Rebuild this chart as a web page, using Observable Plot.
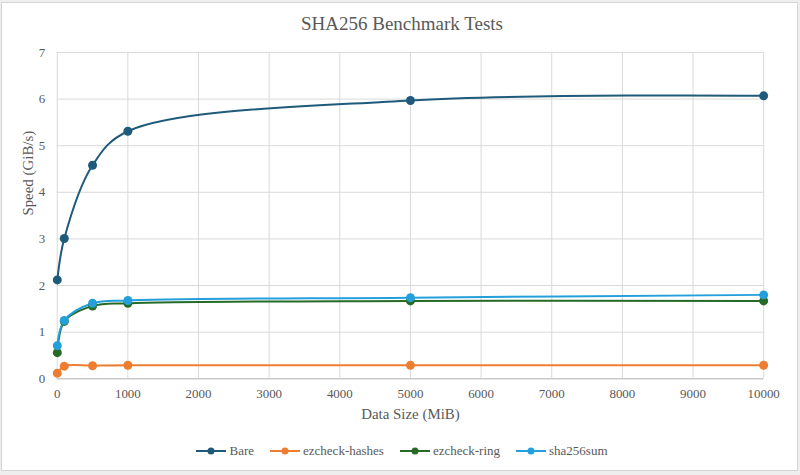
<!DOCTYPE html>
<html>
<head>
<meta charset="utf-8">
<script src="https://cdn.jsdelivr.net/npm/d3@7"></script>
<script src="https://cdn.jsdelivr.net/npm/@observablehq/plot@0.6"></script>
<style>
  html, body { margin: 0; padding: 0; background: #eeeeee; }
  #card { position: absolute; left: 1px; top: 2px; width: 795px; height: 467px; background: #fff; border: 1px solid #d4d4d4; overflow: hidden; }
  #title { position: absolute; left: 0; top: 0; width: 800px; height: 40px; text-align: center; font-family: "Times New Roman", "Liberation Serif", "DejaVu Serif", serif; font-size: 19px; color: #595959; line-height: 42px; }
  #chart { position: absolute; left: -1px; top: 38px; }
  #legend { position: absolute; left: 0; top: 437px; width: 800px; height: 22px; font-family: "Times New Roman", "Liberation Serif", "DejaVu Serif", serif; font-size: 13px; color: #595959; display: flex; justify-content: center; align-items: center; gap: 16px; }
  .item { display: flex; align-items: center; }
  .item svg { margin-right: 3px; }
</style>
</head>
<body>
<div id="card">
  <div id="title">SHA256 Benchmark Tests</div>
  <div id="chart"></div>
  <div id="legend"></div>
</div>
<script>
const sizes = [1, 100, 500, 1000, 5000, 10000];
const seriesNames = ["Bare", "ezcheck-hashes", "ezcheck-ring", "sha256sum"];
const bare = [2.12, 3.01, 4.58, 5.31, 5.97, 6.07];
const ezcheckHashes = [0.12, 0.27, 0.28, 0.29, 0.29, 0.29];
const ezcheckRing = [0.56, 1.23, 1.56, 1.62, 1.67, 1.67];
const sha256sum = [0.71, 1.25, 1.62, 1.68, 1.74, 1.80];
const colors = ["#1f5a7a", "#ed7d31", "#256b27", "#23a0db"];
const xTicks = [0, 1000, 2000, 3000, 4000, 5000, 6000, 7000, 8000, 9000, 10000];
const yTicks = [0, 1, 2, 3, 4, 5, 6, 7];

const valuesBySeries = [bare, ezcheckHashes, ezcheckRing, sha256sum];
const data = [];
seriesNames.forEach((name, i) => {
  sizes.forEach((s, j) => data.push({series: name, size: s, speed: valuesBySeries[i][j]}));
});

const font = "'Times New Roman', 'Liberation Serif', 'DejaVu Serif', serif";
const plot = Plot.plot({
  width: 800,
  height: 392,
  marginTop: 11,
  marginBottom: 53,
  marginLeft: 56,
  marginRight: 34,
  style: {fontFamily: font, fontSize: "13px", color: "#595959", background: "transparent"},
  x: {domain: [0, 10000], ticks: xTicks, label: null},
  y: {domain: [0, 7], ticks: yTicks, label: null},
  color: {domain: seriesNames, range: colors},
  marks: [
    Plot.gridX(xTicks, {stroke: "#d9d9d9", strokeOpacity: 1, strokeWidth: 1}),
    Plot.gridY(yTicks, {stroke: "#d9d9d9", strokeOpacity: 1, strokeWidth: 1}),
    Plot.ruleY([0], {stroke: "#bfbfbf", strokeWidth: 1}),
    Plot.axisX(xTicks, {tickSize: 0, tickPadding: 10, fontSize: 13, fill: "#595959", tickFormat: d => String(d)}),
    Plot.axisY(yTicks, {tickSize: 0, tickPadding: 12, fontSize: 13, fill: "#595959", tickFormat: d => String(d)}),
    Plot.text(["Data Size (MiB)"], {frameAnchor: "bottom", dy: 40, fontSize: 15, fill: "#595959"}),
    Plot.text(["Speed (GiB/s)"], {frameAnchor: "left", dx: -29, rotate: -90, fontSize: 15, fill: "#595959"}),
    Plot.line(data, {x: "size", y: "speed", stroke: "series", z: "series", strokeWidth: 2, curve: "catmull-rom"}),
    Plot.dot(data, {x: "size", y: "speed", fill: "series", r: 4.5})
  ]
});
document.getElementById("chart").appendChild(plot);

const legend = document.getElementById("legend");
seriesNames.forEach((name, i) => {
  const item = document.createElement("div");
  item.className = "item";
  item.innerHTML = `<svg width="30" height="10"><line x1="0" y1="5" x2="30" y2="5" stroke="${colors[i]}" stroke-width="2"/><circle cx="15" cy="5" r="3.5" fill="${colors[i]}"/></svg><span>${name}</span>`;
  legend.appendChild(item);
});
</script>
</body>
</html>
